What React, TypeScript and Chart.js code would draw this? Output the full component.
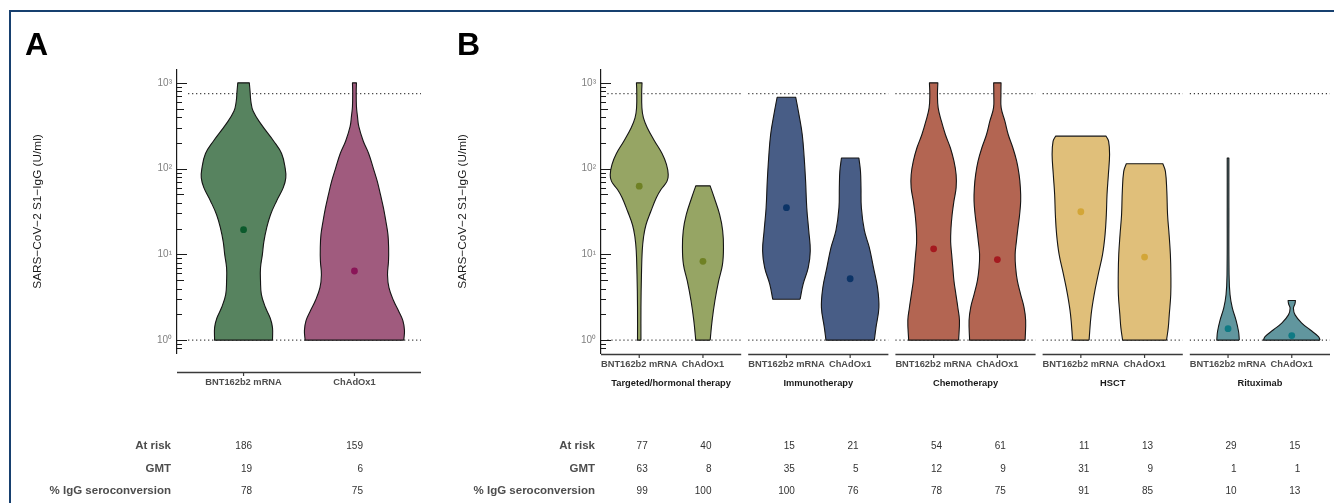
import React, { useEffect, useRef } from 'react';
import { Chart, registerables } from 'chart.js';

Chart.register(...registerables);

const FONT = "'Liberation Sans', Arial, Helvetica, sans-serif";

// ---------- categories & labels ----------
const vaccines = ['BNT162b2 mRNA', 'ChAdOx1'];
const groups = ['Targeted/hormonal therapy', 'Immunotherapy', 'Chemotherapy', 'HSCT', 'Rituximab'];
const rowLabels = ['At risk', 'GMT', '% IgG seroconversion'];
const yTitle = 'SARS\u2212CoV\u22122 S1\u2212IgG (U/ml)';

// ---------- table values ----------
const atRiskA = [186, 159];
const gmtA = [19, 6];
const seroA = [78, 75];
const atRiskB = [77, 40, 15, 21, 54, 61, 11, 13, 29, 15];
const gmtB = [63, 8, 35, 5, 12, 9, 31, 9, 1, 1];
const seroB = [99, 100, 100, 76, 78, 75, 91, 85, 10, 13];

// ---------- geometric-mean points (U/ml) ----------
const meanA = [19.4, 6.4];
const meanB = [62.4, 8.3, 35, 5.2, 11.6, 8.7, 31.4, 9.3, 1.36, 1.13];

// ---------- y axis ----------
const yTickValues = [1, 10, 100, 1000];
const yTickLabels = ['10\u2070', '10\u00b9', '10\u00b2', '10\u00b3'];
const refLevels = [1, 750];

// ---------- violin outlines: levels (U/ml, bottom -> top) and half widths (category units) ----------
const bntA_y = [1, 1.4, 1.8, 2.4, 3.4, 4.9, 7, 10, 14, 20, 29, 42, 60, 78, 100, 150, 210, 330, 470, 610, 790, 1000];
const bntA_w = [0.261, 0.261, 0.241, 0.198, 0.161, 0.153, 0.153, 0.17, 0.183, 0.207, 0.243, 0.298, 0.358, 0.381, 0.376, 0.343, 0.271, 0.158, 0.086, 0.066, 0.059, 0.052];
const chA_y = [1, 1.3, 1.7, 2.2, 2.9, 4.1, 5.8, 8.3, 12, 17, 24, 35, 50, 71, 100, 150, 210, 310, 410, 530, 790, 1000];
const chA_w = [0.445, 0.451, 0.436, 0.397, 0.352, 0.311, 0.298, 0.307, 0.308, 0.302, 0.284, 0.261, 0.234, 0.206, 0.171, 0.128, 0.079, 0.039, 0.027, 0.018, 0.016, 0.018];

const bntTarg_y = [1, 2.4, 5.8, 11, 16, 22, 32, 46, 57, 71, 85, 112, 150, 210, 300, 390, 510, 800, 1000];
const bntTarg_w = [0.027, 0.027, 0.035, 0.047, 0.068, 0.105, 0.184, 0.27, 0.341, 0.435, 0.455, 0.427, 0.358, 0.24, 0.126, 0.066, 0.042, 0.039, 0.044];
const chTarg_y = [1, 1.7, 2.9, 4.9, 7.6, 12, 19, 29, 46, 63];
const chTarg_w = [0.113, 0.144, 0.188, 0.246, 0.306, 0.322, 0.309, 0.262, 0.176, 0.113];

const bntImmu_y = [3, 4.5, 7, 11, 19, 35, 71, 133, 250, 430, 680];
const bntImmu_w = [0.215, 0.262, 0.342, 0.374, 0.35, 0.319, 0.301, 0.279, 0.248, 0.196, 0.146];
const chImmu_y = [1, 1.4, 2.4, 4.1, 7, 12, 19, 35, 60, 93, 133];
const chImmu_w = [0.38, 0.405, 0.451, 0.429, 0.366, 0.301, 0.223, 0.176, 0.17, 0.162, 0.137];

const bntChemo_y = [1, 1.7, 2.4, 3.4, 4.9, 7, 10, 14, 20, 29, 42, 60, 85, 122, 175, 250, 357, 510, 730, 1000];
const bntChemo_w = [0.392, 0.405, 0.38, 0.35, 0.319, 0.301, 0.283, 0.267, 0.272, 0.29, 0.319, 0.353, 0.353, 0.319, 0.262, 0.184, 0.122, 0.071, 0.06, 0.066];
const chChemo_y = [1, 1.7, 2.4, 3.4, 4.9, 7, 10, 14, 20, 29, 42, 60, 85, 122, 175, 250, 357, 510, 730, 1000];
const chChemo_w = [0.436, 0.444, 0.419, 0.366, 0.314, 0.287, 0.279, 0.298, 0.322, 0.349, 0.366, 0.361, 0.341, 0.303, 0.243, 0.17, 0.118, 0.06, 0.056, 0.058];

const bntHsct_y = [1, 2, 3.4, 5.8, 10, 17, 29, 50, 85, 146, 208, 239];
const bntHsct_w = [0.129, 0.162, 0.209, 0.272, 0.341, 0.38, 0.4, 0.411, 0.432, 0.451, 0.436, 0.396];
const chHsct_y = [1, 1.4, 2, 3.4, 5.8, 10, 17, 29, 55, 93, 114];
const chHsct_w = [0.345, 0.372, 0.388, 0.411, 0.413, 0.405, 0.385, 0.361, 0.349, 0.327, 0.287];

const bntRitu_y = [1, 1.26, 1.7, 2.4, 3.4, 5.8, 35, 133];
const bntRitu_w = [0.177, 0.165, 0.126, 0.066, 0.031, 0.016, 0.013, 0.013];
const chRitu_y = [1, 1.1, 1.32, 1.58, 1.97, 2.36, 2.65, 2.9];
const chRitu_w = [0.444, 0.419, 0.287, 0.157, 0.052, 0.026, 0.05, 0.058];

// ---------- colours ----------
const fillA = ['#57835f', '#a05b7e'];
const dotA = ['#0b5a2c', '#8a1558'];
const fillB = ['#96a564', '#485d86', '#b36552', '#e0bf7a', '#61969e'];
const dotB = ['#6f8124', '#0c3467', '#a5191f', '#d3a637', '#0f7a84'];

const FACET_SPAN = 2.2;
const FACET_GAP = 0.11;

function violinOutline(center: number, ys: number[], ws: number[]) {
  const right = ys.map((y, i) => ({ x: center + ws[i], y }));
  const left = ys.map((y, i) => ({ x: center - ws[i], y })).reverse();
  const br = right[0];
  const tr = right[right.length - 1];
  const tl = left[0];
  const bl = left[left.length - 1];
  return [br, ...right, tr, tl, ...left, bl, br];
}

type Spec = {
  letter: string;
  letterX: number;
  yAxisWidth: number;
  titlePad: number;
  padRight: number;
  facets: number[];
  axisGap: number;
  groupNames: string[] | null;
  violins: { x: number; ys: number[]; ws: number[]; fill: string; dot: string; mean: number }[];
  table: number[][];
};

function buildDatasets(spec: Spec) {
  const ds: any[] = [];
  spec.facets.forEach((off, f) => {
    const from = off + (f === 0 ? 0.5 : 0.4);
    const to = off + 2.6;
    refLevels.forEach((lv) => {
      ds.push({
        type: 'line',
        data: [{ x: from, y: lv }, { x: to, y: lv }],
        borderColor: '#3a3a3a',
        borderWidth: 1.1,
        borderDash: [1.2, 2.8],
        pointRadius: 0,
        fill: false,
        tension: 0,
        order: 3,
      });
    });
  });
  spec.violins.forEach((v) => {
    ds.push({
      type: 'line',
      data: violinOutline(v.x, v.ys, v.ws),
      borderColor: '#151515',
      borderWidth: 1.1,
      borderJoinStyle: 'round',
      backgroundColor: v.fill,
      fill: 'shape',
      tension: 0.4,
      pointRadius: 0,
      order: 2,
    });
  });
  spec.violins.forEach((v) => {
    ds.push({
      type: 'line',
      showLine: false,
      data: [{ x: v.x, y: v.mean }],
      pointRadius: 3.4,
      pointBackgroundColor: v.dot,
      pointBorderWidth: 0,
      order: 1,
    });
  });
  return ds;
}

function extrasPlugin(spec: Spec) {
  return {
    id: 'extras' + spec.letter,
    afterDraw(chart: any) {
      const { ctx, chartArea } = chart;
      const xs = chart.scales.x;
      const ys = chart.scales.y;
      ctx.save();
      // log ticks inside the panel
      ctx.strokeStyle = '#1a1a1a';
      ctx.lineWidth = 1;
      for (let d = -1; d <= 3; d++) {
        for (let m = 1; m <= 9; m++) {
          const v = m * Math.pow(10, d);
          if (v < ys.min || v > ys.max) continue;
          const py = Math.round(ys.getPixelForValue(v)) + 0.5;
          const len = m === 1 ? 10 : m === 5 ? 7 : 5;
          ctx.beginPath();
          ctx.moveTo(chartArea.left, py);
          ctx.lineTo(chartArea.left + len, py);
          ctx.stroke();
        }
      }
      // x axis segments, ticks, category labels, group labels
      const axisY = Math.round(chartArea.bottom + spec.axisGap) + 0.5;
      spec.facets.forEach((off, f) => {
        const x0 = xs.getPixelForValue(off + 0.4);
        const x1 = xs.getPixelForValue(off + 2.6);
        ctx.strokeStyle = '#3a3a3a';
        ctx.lineWidth = 1.5;
        ctx.beginPath();
        ctx.moveTo(x0, axisY);
        ctx.lineTo(x1, axisY);
        ctx.stroke();
        vaccines.forEach((name, c) => {
          const px = xs.getPixelForValue(off + c + 1);
          ctx.lineWidth = 1.2;
          ctx.beginPath();
          ctx.moveTo(px, axisY);
          ctx.lineTo(px, axisY + 3.5);
          ctx.stroke();
          ctx.fillStyle = '#4d4d4d';
          ctx.font = `bold 9.3px ${FONT}`;
          ctx.textAlign = 'center';
          ctx.textBaseline = 'alphabetic';
          ctx.fillText(name, px, axisY + 12.5);
        });
        if (spec.groupNames) {
          const gx = xs.getPixelForValue(off + 1.5);
          ctx.fillStyle = '#1a1a1a';
          ctx.font = `bold 9.3px ${FONT}`;
          ctx.textAlign = 'center';
          ctx.fillText(spec.groupNames[f], gx, axisY + 31);
        }
      });
      // table below
      const baselines = [449, 471.5, 493.5];
      rowLabels.forEach((lab, r) => {
        ctx.fillStyle = '#4d4d4d';
        ctx.font = `bold 11.5px ${FONT}`;
        ctx.textAlign = 'right';
        ctx.fillText(lab, chartArea.left - 6, baselines[r]);
        ctx.fillStyle = '#333333';
        ctx.font = `10px ${FONT}`;
        spec.table[r].forEach((val, i) => {
          const f = Math.floor(i / 2);
          const c = i % 2;
          const px = xs.getPixelForValue(spec.facets[f] + c + 1);
          ctx.fillText(String(val), px + 8.5, baselines[r]);
        });
      });
      // panel letter
      ctx.fillStyle = '#000000';
      ctx.font = `bold 32px ${FONT}`;
      ctx.textAlign = 'left';
      ctx.fillText(spec.letter, spec.letterX, 55);
      ctx.restore();
    },
  };
}

function makeChart(canvas: HTMLCanvasElement, spec: Spec) {
  const lastFacet = spec.facets[spec.facets.length - 1];
  return new Chart(canvas, {
    type: 'line',
    data: { datasets: buildDatasets(spec) },
    options: {
      responsive: false,
      animation: false,
      events: [],
      layout: { padding: { left: 0, right: spec.padRight, top: 70, bottom: 150 } },
      plugins: { legend: { display: false }, tooltip: { enabled: false } },
      scales: {
        x: { type: 'linear', display: false, min: 0.4, max: lastFacet + 2.6, bounds: 'data' },
        y: {
          type: 'logarithmic',
          min: Math.pow(10, -0.15),
          max: Math.pow(10, 3.15),
          bounds: 'data',
          afterBuildTicks: (s: any) => {
            s.ticks = yTickValues.map((v) => ({ value: v }));
          },
          afterFit: (s: any) => {
            s.width = spec.yAxisWidth;
          },
          grid: { display: false, drawTicks: false },
          border: { display: true, color: '#1a1a1a', width: 1.2 },
          ticks: {
            autoSkip: false,
            padding: 5,
            color: '#808080',
            font: { family: FONT, size: 10 },
            callback: (_v: any, i: number) => yTickLabels[i],
          },
          title: {
            display: true,
            text: yTitle,
            color: '#1a1a1a',
            font: { family: FONT, size: 11.8 },
            padding: { top: spec.titlePad, bottom: 0 },
          },
        },
      },
    } as any,
    plugins: [extrasPlugin(spec)],
  });
}

const specA: Spec = {
  letter: 'A',
  letterX: 25,
  yAxisWidth: 177,
  titlePad: 31,
  padRight: 19,
  facets: [0],
  axisGap: 19,
  groupNames: null,
  violins: [
    { x: 1, ys: bntA_y, ws: bntA_w, fill: fillA[0], dot: dotA[0], mean: meanA[0] },
    { x: 2, ys: chA_y, ws: chA_w, fill: fillA[1], dot: dotA[1], mean: meanA[1] },
  ],
  table: [atRiskA, gmtA, seroA],
};

const outlinesB = [
  [bntTarg_y, bntTarg_w], [chTarg_y, chTarg_w],
  [bntImmu_y, bntImmu_w], [chImmu_y, chImmu_w],
  [bntChemo_y, bntChemo_w], [chChemo_y, chChemo_w],
  [bntHsct_y, bntHsct_w], [chHsct_y, chHsct_w],
  [bntRitu_y, bntRitu_w], [chRitu_y, chRitu_w],
];
const facetsB = groups.map((_, f) => f * (FACET_SPAN + FACET_GAP));

const specB: Spec = {
  letter: 'B',
  letterX: 17,
  yAxisWidth: 161,
  titlePad: 15.4,
  padRight: 4,
  facets: facetsB,
  axisGap: 1,
  groupNames: groups,
  violins: outlinesB.map(([ys, ws], i) => {
    const f = Math.floor(i / 2);
    const c = i % 2;
    return { x: facetsB[f] + c + 1, ys, ws, fill: fillB[f], dot: dotB[f], mean: meanB[i] };
  }),
  table: [atRiskB, gmtB, seroB],
};

export default function App() {
  const refA = useRef<HTMLCanvasElement | null>(null);
  const refB = useRef<HTMLCanvasElement | null>(null);
  useEffect(() => {
    const a = makeChart(refA.current as HTMLCanvasElement, specA);
    const b = makeChart(refB.current as HTMLCanvasElement, specB);
    return () => {
      a.destroy();
      b.destroy();
    };
  }, []);
  return (
    <div style={{ position: 'absolute', left: 0, top: 0, width: 1334, height: 503, overflow: 'hidden', background: '#ffffff' }}>
      <div
        style={{
          position: 'absolute',
          left: 9,
          top: 10,
          width: 1400,
          height: 600,
          borderTop: '2px solid #17406f',
          borderLeft: '2px solid #17406f',
        }}
      />
      <canvas ref={refA} width={440} height={503} style={{ position: 'absolute', left: 0, top: 0 }} />
      <canvas ref={refB} width={894} height={503} style={{ position: 'absolute', left: 440, top: 0 }} />
    </div>
  );
}
